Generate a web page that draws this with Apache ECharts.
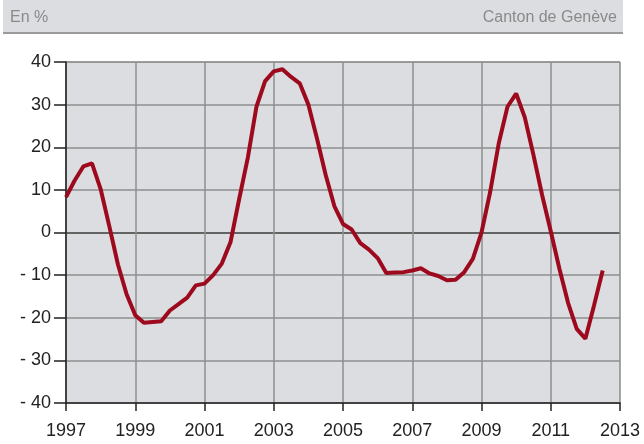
<!DOCTYPE html>
<html>
<head>
<meta charset="utf-8">
<script src="https://cdn.jsdelivr.net/npm/echarts@6/dist/echarts.min.js"></script>
<style>
  html, body { margin: 0; padding: 0; background: #fff; }
  #chart { width: 644px; height: 444px; }
</style>
</head>
<body>
<div id="chart"></div>
<script>
// données trimestrielles, de 1997 T1 à 2012 T3
var startYear = 1997;
var values = [
  8.3, 12.2, 15.5, 16.2,
  10.2, 1.5, -7.5, -14.5,
  -19.4, -21.2, -21.0, -20.8,
  -18.3, -16.8, -15.3, -12.4,
  -12.0, -10.0, -7.3, -2.3,
  7.8, 17.5, 29.5, 35.5,
  37.8, 38.3, 36.5, 35.0,
  30.0, 22.0, 13.5, 6.2,
  2.0, 0.7, -2.5, -4.0,
  -6.0, -9.5, -9.4, -9.3,
  -8.9, -8.4, -9.6, -10.2,
  -11.2, -11.1, -9.3, -6.2,
  0.0, 9.5, 21.0, 29.5,
  32.6, 27.0, 18.2, 8.8,
  0.3, -8.5, -16.5, -22.6,
  -24.9, -17.1, -8.9
];
var yTicks = [-40, -30, -20, -10, 0, 10, 20, 30, 40];
var xTickYears = [1997, 1999, 2001, 2003, 2005, 2007, 2009, 2011, 2013];

var font = "'Liberation Sans', Arial, sans-serif";
var gridCol = '#8d8e90';

// x = années écoulées depuis 1997
var seriesData = [];
for (var i = 0; i < values.length; i++) {
  seriesData.push([i * 0.25, values[i]]);
}

var ySplitColors = yTicks.map(function (v) {
  if (v === 0) return '#3a3a3a';
  if (v === 40) return '#7d7d7d';
  return gridCol;
});
var xSplitColors = xTickYears.map(function (y) {
  return y === 2013 ? '#8a8a8a' : gridCol;
});

var myChart = echarts.init(document.getElementById('chart'));
var option = {
  animation: false,
  textStyle: { fontFamily: font },
  graphic: [
    { type: 'rect', shape: { x: 3, y: 0, width: 620, height: 33 }, style: { fill: '#dcdde0' }, z: 1 },
    { type: 'line', shape: { x1: 3, y1: 33, x2: 623, y2: 33 }, style: { stroke: '#9a9a9a', lineWidth: 2 }, z: 2 },
    { type: 'text', x: 10, y: 18, style: { text: 'En %', fill: '#8a8a8a', fontSize: 16, fontFamily: font, textVerticalAlign: 'middle' }, z: 3 },
    { type: 'text', x: 617, y: 18, style: { text: 'Canton de Genève', fill: '#8a8a8a', fontSize: 16, fontFamily: font, textAlign: 'right', textVerticalAlign: 'middle' }, z: 3 }
  ],
  grid: {
    left: 66, right: 24, top: 62, bottom: 41,
    show: true, backgroundColor: '#dcdde0', borderWidth: 0
  },
  xAxis: {
    type: 'value',
    min: 0, max: 16, interval: 2,
    axisLine: { show: true, onZero: false, lineStyle: { color: '#222', width: 1.5 } },
    axisTick: { show: true, length: 8, lineStyle: { color: '#222', width: 1.5 } },
    axisLabel: {
      fontSize: 18, color: '#222', margin: 19, fontFamily: font,
      formatter: function (v) { return String(startYear + v); }
    },
    splitLine: { show: true, lineStyle: { color: xSplitColors, width: 1.5 } }
  },
  yAxis: {
    type: 'value',
    min: -40, max: 40, interval: 10,
    axisLine: { show: true, onZero: false, lineStyle: { color: '#222', width: 1.5 } },
    axisTick: { show: true, length: 12, lineStyle: { color: '#222', width: 1.5 } },
    axisLabel: {
      fontSize: 18, color: '#222', margin: 15, fontFamily: font,
      formatter: function (v) { return v < 0 ? '- ' + (-v) : String(v); }
    },
    splitLine: { show: true, lineStyle: { color: ySplitColors, width: 1.5 } }
  },
  series: [{
    type: 'line',
    data: seriesData,
    showSymbol: false,
    symbol: 'none',
    lineStyle: { color: '#9d0a1e', width: 4 },
    z: 5
  }]
};
myChart.setOption(option);
</script>
</body>
</html>
